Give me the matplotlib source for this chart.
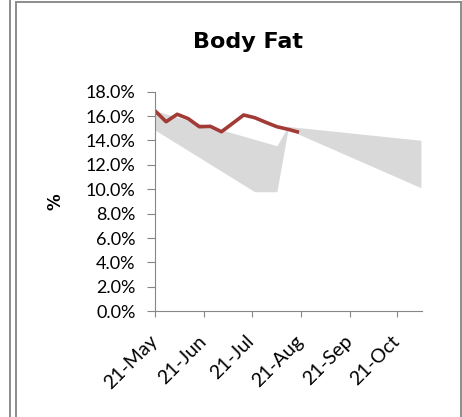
import datetime as dt
import matplotlib
matplotlib.use('Agg')
import matplotlib.pyplot as plt
import matplotlib.dates as mdates
from matplotlib.lines import Line2D
import pandas as pd

# weekly body fat readings (%)
fat_dates = ['2012-05-21', '2012-05-28', '2012-06-04', '2012-06-11', '2012-06-18',
             '2012-06-25', '2012-07-02', '2012-07-09', '2012-07-16', '2012-07-23',
             '2012-07-30', '2012-08-06', '2012-08-13', '2012-08-20']
fat_values = [16.44, 15.54, 16.15, 15.79, 15.13, 15.16, 14.72, 15.40, 16.09, 15.87,
              15.49, 15.13, 14.92, 14.67]

# target band (grey area)
band_dates = ['2012-05-21', '2012-07-23', '2012-08-06', '2012-08-13', '2012-11-05']
band_upper = [16.44, 14.09, 13.57, 15.15, 14.02]
band_lower = [14.86, 9.80, 9.80, 14.90, 10.13]

tick_dates = ['2012-05-21', '2012-06-21', '2012-07-21', '2012-08-21', '2012-09-21', '2012-10-21']
y_ticks = [0, 2, 4, 6, 8, 10, 12, 14, 16, 18]

fd = pd.to_datetime(fat_dates)
bd = pd.to_datetime(band_dates)
td = pd.to_datetime(tick_dates)

plt.rcParams['font.family'] = ['Lato', 'DejaVu Sans']

fig = plt.figure(figsize=(4.62, 4.17), dpi=100)
ax = fig.add_axes([0.3355, 0.2535, 0.5773, 0.5266])

ax.fill_between(bd, band_lower, band_upper, color='#D9D9D9', linewidth=0)
ax.plot(fd, fat_values, color='#A23B36', linewidth=2.6, solid_capstyle='butt')

ax.set_ylim(0, 18)
ax.set_xlim(bd[0], bd[-1] + pd.Timedelta(hours=12))
ax.set_yticks(y_ticks)
ax.set_yticklabels(['%.1f%%' % v for v in y_ticks])
ax.set_xticks(td)
ax.xaxis.set_major_formatter(mdates.DateFormatter('%d-%b'))

for s in ['top', 'right']:
    ax.spines[s].set_visible(False)
for s in ['left', 'bottom']:
    ax.spines[s].set_color('#868686')
    ax.spines[s].set_linewidth(0.8)

ax.tick_params(axis='y', direction='out', length=6, width=0.8, color='#868686',
               labelsize=13, pad=8)
ax.tick_params(axis='x', direction='out', length=4.5, width=0.8, color='#868686',
               labelsize=14, pad=15)

for lab in ax.get_xticklabels():
    lab.set_rotation(45)
    lab.set_ha('right')
    lab.set_va('center')
    lab.set_rotation_mode('anchor')

ax.set_ylabel('%', fontsize=12, fontweight='bold', family='DejaVu Sans')
ax.yaxis.set_label_coords(-0.34, 0.5)

fig.text(0.537, 0.884, 'Body Fat', fontsize=16, fontweight='bold', family='DejaVu Sans',
         ha='center', va='baseline')

# chart frame and neighbouring chart edge
fig.add_artist(Line2D([0.0346, 0.0346], [0, 0.995], transform=fig.transFigure, color='#8C8C8C', linewidth=1.4))
fig.add_artist(Line2D([0.0346, 0.9968], [0.995, 0.995], transform=fig.transFigure, color='#8C8C8C', linewidth=1.4))
fig.add_artist(Line2D([0.9968, 0.9968], [0, 0.995], transform=fig.transFigure, color='#8C8C8C', linewidth=1.4))
fig.add_artist(Line2D([0.0216, 0.0216], [0, 1], transform=fig.transFigure, color='#8C8C8C', linewidth=1.4))

fig.savefig('out.png', dpi=100)
